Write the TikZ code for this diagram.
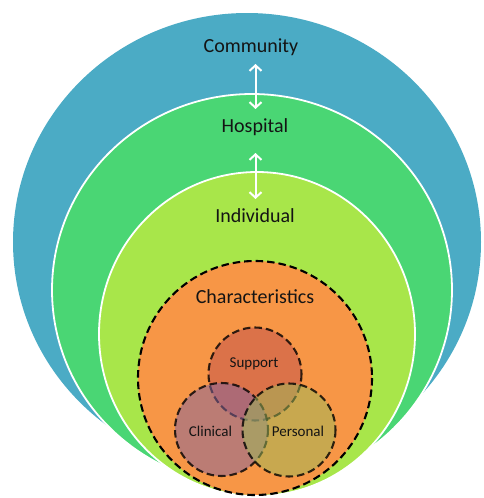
\documentclass[tikz,border=0pt]{standalone}
\usepackage{fontspec}
\setmainfont{Carlito}
\usetikzlibrary{arrows.meta}
\definecolor{communityblue}{RGB}{75,171,197}
\definecolor{hospitalgreen}{RGB}{74,214,116}
\definecolor{individualgreen}{RGB}{168,230,74}
\definecolor{charorange}{RGB}{247,150,70}
\definecolor{supportred}{RGB}{192,80,77}
\definecolor{clinicalpurple}{RGB}{128,100,162}
\definecolor{personalolive}{RGB}{155,187,89}
\definecolor{labeltext}{RGB}{20,20,20}
\begin{document}
\begin{tikzpicture}[x=1pt,y=-1pt,
  ring/.style={draw=white,line width=1.8pt},
  dashring/.style={draw=black,line width=2.1pt,dash pattern=on 7.5pt off 4pt},
  subset/.style={dashring,fill opacity=0.5,draw opacity=0.8},
  levellabel/.style={font=\fontsize{20}{22}\selectfont,text=labeltext,inner sep=0pt},
  setlabel/.style={font=\fontsize{15}{17}\selectfont,text=labeltext,inner sep=0pt},
  linkarrow/.style={draw=white,line width=2pt,{Straight Barb[length=5.5pt,width=12pt]}-{Straight Barb[length=5.5pt,width=12pt]}}
]
\useasboundingbox (0,0) rectangle (483,498);

% nested levels
\fill[communityblue] (247,242) ellipse [x radius=234,y radius=229];
\path[ring,fill=hospitalgreen] (252,290) ellipse [x radius=200,y radius=196];
\path[ring,fill=individualgreen] (257,334) ellipse [x radius=158,y radius=162];
\path[dashring,fill=charorange] (255,378) circle [radius=117];

% overlapping characteristic sets
\path[subset,fill=supportred] (255,374) circle [radius=46.5];
\path[subset,fill=clinicalpurple] (221.5,429.5) circle [radius=46.5];
\path[subset,fill=personalolive] (289,430) circle [radius=46.5];

% labels
\node[levellabel] (community) at (251,47) {Community};
\node[levellabel] (hospital) at (255,127) {Hospital};
\node[levellabel] (individual) at (255,216) {Individual};
\node[levellabel] (characteristics) at (255,297) {Characteristics};
\node[setlabel] (support) at (254,364) {Support};
\node[setlabel] (clinical) at (210.5,431) {Clinical};
\node[setlabel] (personal) at (298,431) {Personal};

% links between levels
\coordinate (c1) at (255.5,64);
\coordinate (h1) at (255.5,109);
\coordinate (h2) at (255.5,153);
\coordinate (i1) at (255.5,199);
\draw[linkarrow] (c1) -- (h1);
\draw[linkarrow] (h2) -- (i1);
\end{tikzpicture}
\end{document}
